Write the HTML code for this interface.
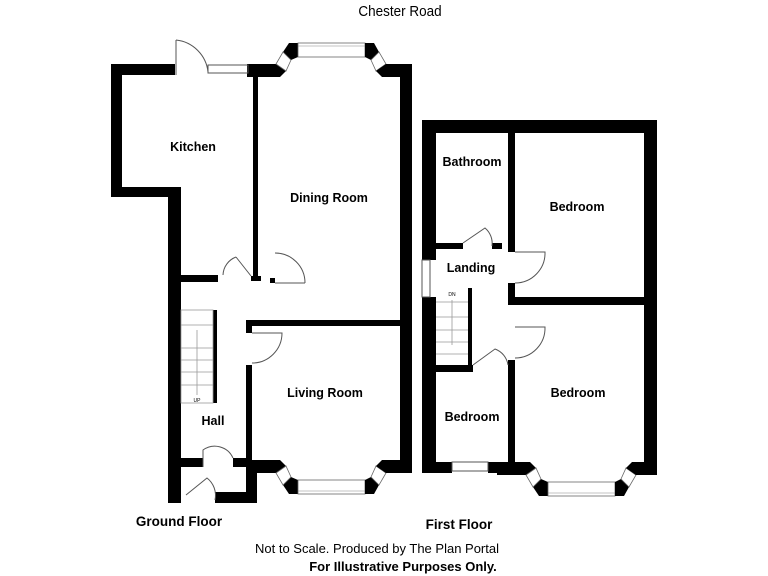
<!DOCTYPE html>
<html><head><style>
html,body{margin:0;padding:0;background:#fff;}
svg{display:block;}
text{font-family:"Liberation Sans",Arial,sans-serif;}
.l{font-weight:bold;font-size:12.5px;text-anchor:middle;}
</style></head><body>
<svg width="768" height="576" viewBox="0 0 768 576" xmlns="http://www.w3.org/2000/svg">
<defs>
<g id="bay">
<polygon points="247,64 276,64 286,71 280,77 247,77" fill="#000"/>
<polygon points="289,43 298,43 298,57 291,60 283,52" fill="#000"/>
<polygon points="283,52 291,60 286,71 276,64" fill="#fff" stroke="#666" stroke-width="0.8"/>
<rect x="298" y="43" width="67" height="14" fill="#fff" stroke="#666" stroke-width="0.8"/>
<line x1="298" y1="46" x2="365" y2="46" stroke="#888" stroke-width="0.6"/>
<polygon points="365,43 374,43 379,52 371,60 365,57" fill="#000"/>
<polygon points="379,52 371,60 376,71 386,64" fill="#fff" stroke="#666" stroke-width="0.8"/>
<polygon points="386,64 412,64 412,77 382,77 376,71" fill="#000"/>
</g>
</defs>
<rect width="768" height="576" fill="#fff"/>
<text x="400" y="16" font-size="15" text-anchor="middle" transform="translate(400 0) scale(0.9 1) translate(-400 0)">Chester Road</text>
<use href="#bay"/>
<use href="#bay" transform="translate(0,537) scale(1,-1)"/>
<use href="#bay" transform="translate(250,539) scale(1,-1)"/>
<g fill="#000">
<rect x="111" y="64" width="11" height="133"/>
<rect x="111" y="64" width="64" height="11"/>
<rect x="111" y="187" width="70" height="10"/>
<rect x="168" y="187" width="13" height="316"/>
<rect x="400" y="64" width="12" height="408"/>
<rect x="253" y="75" width="5" height="203"/>
<rect x="251" y="276" width="10" height="5"/>
<rect x="270" y="278" width="5" height="5"/>
<rect x="247" y="320" width="153" height="6"/>
<rect x="246" y="320" width="6" height="13"/>
<rect x="246" y="365" width="6" height="102"/>
<rect x="181" y="275" width="37" height="7"/>
<rect x="213" y="310" width="4" height="93"/>
<rect x="181" y="458" width="22" height="9"/>
<rect x="233" y="458" width="19" height="9"/>
<rect x="246" y="460" width="11" height="43"/>
<rect x="215" y="492" width="42" height="11"/>
<rect x="422" y="120" width="235" height="13"/>
<rect x="422" y="120" width="14" height="140"/>
<rect x="422" y="297" width="14" height="176"/>
<rect x="644" y="120" width="13" height="353"/>
<rect x="436" y="243" width="27" height="6"/>
<rect x="492" y="243" width="10" height="6"/>
<rect x="508" y="133" width="7" height="119"/>
<rect x="508" y="283" width="7" height="22"/>
<rect x="515" y="297" width="129" height="8"/>
<rect x="508" y="360" width="7" height="102"/>
<rect x="468" y="288" width="4" height="79"/>
<rect x="436" y="365" width="37" height="7"/>
<rect x="422" y="462" width="30" height="11"/>
<rect x="488" y="462" width="10" height="11"/>
<rect x="657" y="455" width="10" height="25" fill="#fff"/>
</g>
<g fill="none" stroke="#555" stroke-width="1">
<rect x="208" y="65" width="40" height="8"/>
<rect x="452" y="462" width="36" height="9"/>
<rect x="422" y="260" width="8" height="37"/>
<path d="M176 40 L176 75 M176 40 A36 36 0 0 1 208 72"/>
<path d="M275 283 L305 283 M305 283 A30 30 0 0 0 275 253"/>
<path d="M252 333 L282 333 A30 30 0 0 1 252 363"/>
<path d="M236 257 L251 276 M223 275 A20 20 0 0 1 236 257"/>
<path d="M203 467 L203 450 A20 20 0 0 1 233 458"/>
<path d="M186 495 L207 478 A22 22 0 0 1 215 500"/>
<path d="M463 243 L485 228 A20 20 0 0 1 492 246"/>
<path d="M515 252 L545 252 A30 30 0 0 1 515 283"/>
<path d="M515 327 L545 327 A30 30 0 0 1 515 358"/>
<path d="M473 365 L495 349 A20 20 0 0 1 508 365"/>
</g>
<g stroke="#999" stroke-width="0.8">
<rect x="181" y="310" width="32" height="93" fill="none"/>
<line x1="181" y1="325" x2="213" y2="325"/><line x1="181" y1="348" x2="213" y2="348"/><line x1="181" y1="360" x2="213" y2="360"/><line x1="181" y1="372" x2="213" y2="372"/><line x1="181" y1="385" x2="213" y2="385"/>
<line x1="197" y1="330" x2="197" y2="395"/>
<line x1="436" y1="302" x2="468" y2="302"/><line x1="436" y1="317" x2="468" y2="317"/><line x1="436" y1="330" x2="468" y2="330"/><line x1="436" y1="342" x2="468" y2="342"/><line x1="436" y1="354" x2="468" y2="354"/>
<line x1="452" y1="300" x2="452" y2="345"/>
</g>
<text x="197" y="402" font-size="5" text-anchor="middle">UP</text>
<text x="452" y="296" font-size="5" text-anchor="middle">DN</text>
<text class="l" x="193" y="151">Kitchen</text>
<text class="l" x="329" y="202">Dining Room</text>
<text class="l" x="325" y="397">Living Room</text>
<text class="l" x="213" y="425">Hall</text>
<text class="l" x="472" y="166">Bathroom</text>
<text class="l" x="577" y="211">Bedroom</text>
<text class="l" x="471" y="272">Landing</text>
<text class="l" x="578" y="397">Bedroom</text>
<text class="l" x="472" y="421">Bedroom</text>
<text x="179" y="526" font-size="13.5" font-weight="bold" text-anchor="middle">Ground Floor</text>
<text x="459" y="529" font-size="13.5" font-weight="bold" text-anchor="middle">First Floor</text>
<text x="377" y="553" font-size="13" text-anchor="middle">Not to Scale. Produced by The Plan Portal</text>
<text x="403" y="571" font-size="13" font-weight="bold" text-anchor="middle">For Illustrative Purposes Only.</text>
</svg>
</body></html>
